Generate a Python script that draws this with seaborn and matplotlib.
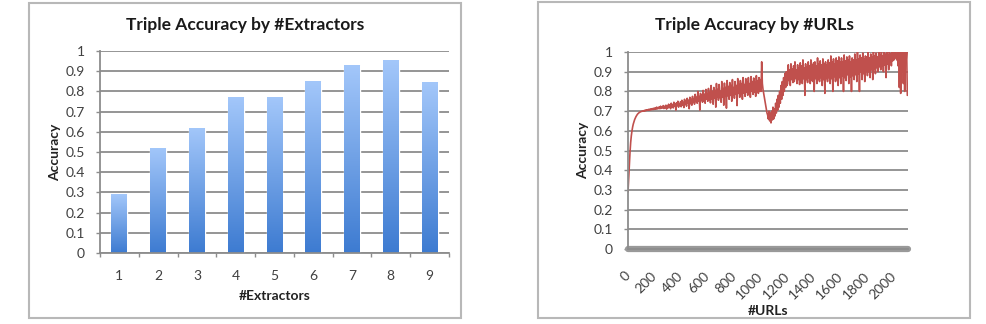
import numpy as np
import pandas as pd
import matplotlib
matplotlib.use("Agg")
import matplotlib.pyplot as plt
import seaborn as sns
from matplotlib.patches import Rectangle
from matplotlib.colors import LinearSegmentedColormap

# ---- data ----
extractors = [1, 2, 3, 4, 5, 6, 7, 8, 9]
extractor_acc = [0.29, 0.52, 0.62, 0.77, 0.77, 0.85, 0.93, 0.955, 0.845]

url_step = 5  # one reading per 5 URLs
url_acc = [
    # 0 - 95
    0.29, 0.36, 0.43, 0.49, 0.54, 0.575, 0.60, 0.62, 0.635, 0.647,
    0.657, 0.665, 0.672, 0.678, 0.683, 0.687, 0.69, 0.693, 0.695, 0.697,
    # 100 - 195
    0.698, 0.70, 0.699, 0.702, 0.70, 0.704, 0.701, 0.706, 0.703, 0.707,
    0.704, 0.709, 0.705, 0.71, 0.706, 0.712, 0.707, 0.713, 0.708, 0.715,
    # 200 - 295
    0.709, 0.716, 0.71, 0.72, 0.711, 0.718, 0.713, 0.722, 0.712, 0.725,
    0.714, 0.72, 0.716, 0.728, 0.713, 0.724, 0.717, 0.73, 0.71, 0.726,
    # 300 - 395
    0.715, 0.735, 0.72, 0.73, 0.712, 0.74, 0.722, 0.733, 0.716, 0.745,
    0.725, 0.738, 0.705, 0.742, 0.728, 0.75, 0.72, 0.735, 0.73, 0.748,
    # 400 - 495
    0.722, 0.755, 0.73, 0.745, 0.718, 0.76, 0.735, 0.75, 0.725, 0.765,
    0.74, 0.755, 0.712, 0.77, 0.738, 0.76, 0.73, 0.775, 0.745, 0.762,
    # 500 - 595
    0.735, 0.785, 0.748, 0.77, 0.74, 0.80, 0.75, 0.775, 0.705, 0.79,
    0.755, 0.78, 0.745, 0.805, 0.752, 0.785, 0.74, 0.81, 0.76, 0.79,
    # 600 - 695
    0.75, 0.815, 0.758, 0.795, 0.742, 0.83, 0.762, 0.80, 0.735, 0.82,
    0.765, 0.805, 0.72, 0.84, 0.77, 0.81, 0.755, 0.835, 0.768, 0.80,
    # 700 - 795
    0.745, 0.85, 0.772, 0.815, 0.73, 0.842, 0.775, 0.82, 0.715, 0.855,
    0.778, 0.825, 0.76, 0.845, 0.78, 0.83, 0.75, 0.86, 0.782, 0.82,
    # 800 - 895
    0.765, 0.85, 0.785, 0.83, 0.728, 0.865, 0.79, 0.835, 0.77, 0.855,
    0.788, 0.84, 0.76, 0.87, 0.792, 0.835, 0.775, 0.865, 0.795, 0.845,
    # 900 - 995
    0.78, 0.87, 0.79, 0.84, 0.77, 0.875, 0.80, 0.85, 0.785, 0.868,
    0.795, 0.845, 0.775, 0.88, 0.802, 0.855, 0.79, 0.87, 0.80, 0.86,
    # 1000 - 1095
    0.80, 0.95, 0.84, 0.81, 0.79, 0.77, 0.75, 0.73, 0.71, 0.69,
    0.68, 0.66, 0.70, 0.65, 0.69, 0.64, 0.70, 0.655, 0.72, 0.66,
    # 1100 - 1195
    0.71, 0.675, 0.74, 0.69, 0.76, 0.705, 0.78, 0.72, 0.80, 0.74,
    0.83, 0.76, 0.85, 0.78, 0.87, 0.80, 0.89, 0.82, 0.90, 0.83,
    # 1200 - 1295
    0.84, 0.935, 0.855, 0.91, 0.83, 0.94, 0.86, 0.915, 0.845, 0.93,
    0.85, 0.95, 0.865, 0.91, 0.84, 0.935, 0.86, 0.92, 0.835, 0.945,
    # 1300 - 1395
    0.85, 0.93, 0.84, 0.96, 0.865, 0.92, 0.78, 0.94, 0.86, 0.925,
    0.845, 0.95, 0.87, 0.93, 0.84, 0.96, 0.855, 0.935, 0.85, 0.945,
    # 1400 - 1495
    0.80, 0.95, 0.865, 0.93, 0.84, 0.97, 0.86, 0.94, 0.85, 0.955,
    0.87, 0.935, 0.83, 0.965, 0.86, 0.94, 0.79, 0.95, 0.865, 0.935,
    # 1500 - 1595
    0.85, 0.96, 0.87, 0.945, 0.84, 0.98, 0.865, 0.95, 0.80, 0.965,
    0.875, 0.94, 0.85, 0.97, 0.86, 0.955, 0.83, 0.975, 0.87, 0.95,
    # 1600 - 1695
    0.84, 0.97, 0.88, 0.95, 0.80, 0.985, 0.87, 0.955, 0.855, 0.975,
    0.885, 0.96, 0.84, 0.98, 0.875, 0.95, 0.80, 0.97, 0.88, 0.96,
    # 1700 - 1795
    0.86, 0.99, 0.885, 0.96, 0.85, 1.00, 0.89, 0.965, 0.80, 0.985,
    0.90, 0.97, 0.86, 0.995, 0.89, 0.965, 0.85, 0.98, 0.905, 0.975,
    # 1800 - 1895
    0.88, 1.00, 0.90, 0.97, 0.87, 0.99, 0.91, 0.975, 0.86, 1.00,
    0.915, 0.98, 0.89, 0.995, 0.92, 0.975, 0.90, 1.00, 0.925, 0.985,
    # 1900 - 1995
    0.91, 1.00, 0.93, 0.98, 0.90, 1.00, 0.935, 0.99, 0.87, 1.00,
    0.94, 0.985, 0.91, 1.00, 0.95, 0.99, 0.93, 1.00, 0.955, 0.995,
    # 2000 - 2100
    0.96, 1.00, 0.97, 0.99, 0.96, 1.00, 0.93, 1.00, 0.82, 1.00,
    0.79, 1.00, 0.90, 1.00, 0.84, 1.00, 0.80, 1.00, 0.95, 1.00, 0.78,
]
url_ticks = [0, 200, 400, 600, 800, 1000, 1200, 1400, 1600, 1800, 2000]
acc_ticks = [0, 0.1, 0.2, 0.3, 0.4, 0.5, 0.6, 0.7, 0.8, 0.9, 1]
acc_labels = ["0", "0.1", "0.2", "0.3", "0.4", "0.5", "0.6", "0.7", "0.8", "0.9", "1"]

sns.set_theme(style="white")
plt.rcParams['font.family'] = ['Lato', 'DejaVu Sans']

TXT = '#404040'
GRID = '#8c8c8c'
W, H = 987, 324

fig = plt.figure(figsize=(9.87, 3.24), dpi=100)

# panel borders
for (x0, y0, x1, y1) in [(29, 3, 461, 318), (538, 2, 970, 318)]:
    fig.patches.append(Rectangle((x0 / W, 1 - y1 / H), (x1 - x0) / W, (y1 - y0) / H,
                                 transform=fig.transFigure, fill=False,
                                 edgecolor='#b8b8b8', linewidth=1.5))

def style_y(ax):
    ax.set_ylim(0, 1)
    ax.set_yticks(acc_ticks)
    ax.set_yticklabels(acc_labels, fontsize=10, color=TXT)
    ax.yaxis.grid(True, color=GRID, linewidth=1.3)
    ax.set_axisbelow(True)
    for s in ['top', 'right']:
        ax.spines[s].set_visible(False)
    for s in ['left', 'bottom']:
        ax.spines[s].set_color(GRID)
        ax.spines[s].set_linewidth(1.3)
    ax.tick_params(axis='y', which='major', left=True, length=3, color=GRID, width=1, pad=8)
    ax.set_ylabel("Accuracy", fontsize=10, fontweight='bold', color='#222222', labelpad=3)

# ---- left: bars ----
ax1 = fig.add_axes([100 / W, 1 - 253 / H, 349 / W, 202 / H])
df1 = pd.DataFrame({"Extractors": extractors, "Accuracy": extractor_acc})
sns.barplot(data=df1, x="Extractors", y="Accuracy", ax=ax1, width=0.41,
            color='#6a9fe6', saturation=1)
style_y(ax1)
ax1.set_xticks(range(len(extractors)))
ax1.set_xticklabels([str(e) for e in extractors], fontsize=10, color=TXT)
ax1.set_xticks(np.arange(-0.5, 9.0, 1.0), minor=True)
ax1.tick_params(axis='x', which='major', bottom=False, length=0, pad=12)
ax1.tick_params(axis='x', which='minor', bottom=True, length=3, color=GRID, width=1)
ax1.set_xlabel("#Extractors", fontsize=10, fontweight='bold', color='#222222', labelpad=6)

grad = np.linspace(0, 1, 256).reshape(-1, 1)
cmap = LinearSegmentedColormap.from_list('g', ['#3d7bd1', '#a3c7fa'])
for p in list(ax1.patches):
    x, w, h = p.get_x(), p.get_width(), p.get_height()
    im = ax1.imshow(grad, extent=[x, x + w, 0, h], origin='lower', cmap=cmap,
                    aspect='auto', zorder=p.get_zorder() + 0.1)
    im.set_clip_path(p)
ax1.set_xlim(-0.5, 8.5)
ax1.set_ylim(0, 1)

# ---- right: line ----
ax2 = fig.add_axes([628 / W, 1 - 249 / H, 280 / W, 197 / H])
urls = np.arange(len(url_acc)) * url_step
df2 = pd.DataFrame({"URLs": urls, "Accuracy": url_acc})
sns.lineplot(data=df2, x="URLs", y="Accuracy", ax=ax2, color='#c0504d', linewidth=1.2)
style_y(ax2)
ax2.set_xlim(0, 2105)
ax2.axhline(0, color='#999999', linewidth=4.5, zorder=1, clip_on=False)
ax2.set_xticks(url_ticks)
ax2.set_xticklabels([str(t) for t in url_ticks], fontsize=10, color=TXT,
                    rotation=45, ha='right', va='center', rotation_mode='anchor')
ax2.tick_params(axis='x', bottom=False, length=0, pad=18)
ax2.set_xlabel("#URLs", fontsize=10, fontweight='bold', color='#222222', labelpad=3)

# titles centred on the panels
fig.text(245 / W, 1 - 25 / H, "Triple Accuracy by #Extractors", fontsize=12.5,
         fontweight='bold', color='#1a1a1a', ha='center', va='center')
fig.text(754 / W, 1 - 25 / H, "Triple Accuracy by #URLs", fontsize=12.5,
         fontweight='bold', color='#1a1a1a', ha='center', va='center')

fig.savefig("out.png", dpi=100)
